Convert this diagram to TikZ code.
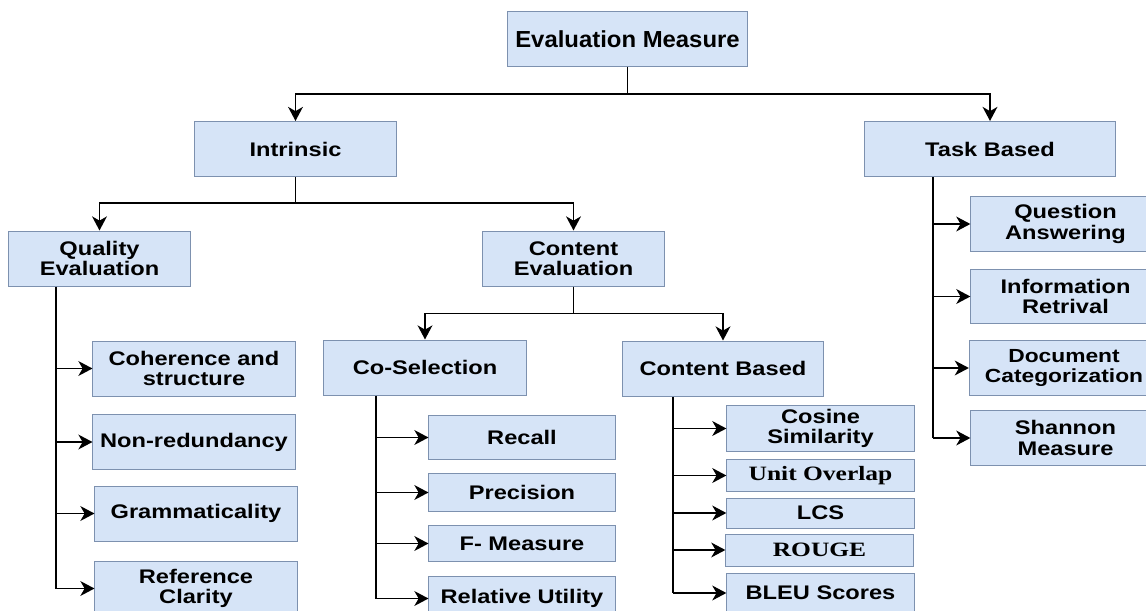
\documentclass[tikz,border=0pt]{standalone}
\usepackage{fontspec}
\setmainfont{Liberation Sans}[FakeStretch=1.2]
\newfontfamily\topfont{Liberation Sans}[FakeStretch=1.03]
\newfontfamily\serfont{Liberation Serif}[FakeStretch=1.25]
\usetikzlibrary{arrows.meta}
\definecolor{boxfill}{RGB}{214,228,247}
\definecolor{boxline}{RGB}{125,145,175}

\begin{document}
\begin{tikzpicture}
	[
		x=0.025cm, y=-0.025cm,
		box/.style = {shape=rectangle, draw=boxline, fill=boxfill, line width=0.7pt, align=center, inner sep=1pt, anchor=center, font=\bfseries\fontsize{14}{14.5}\selectfont},
		lbox/.style = {box, minimum height=1.375cm},
		qbox/.style = {box, minimum width=5.05cm, minimum height=1.375cm},
		sbox/.style = {box, minimum width=4.65cm},
		mbox/.style = {box, minimum width=4.68cm},
		tbox/.style = {box, minimum width=4.73cm, minimum height=1.36cm},
		serbox/.style = {mbox, font=\serfont\bfseries\fontsize{14.5}{16}\selectfont},
		link/.style = {line width=1.4pt},
		arr/.style = {link, -{Stealth[length=10pt, width=10.5pt, inset=3pt]}}
	]
	
	\useasboundingbox (0,0) rectangle (1146,611);
	\clip (0,0) rectangle (1146,611);
	
	\node [lbox, minimum width=5.98cm, font=\topfont\bfseries\fontsize{16.5}{18}\selectfont] (eval) at (627.5,39) {Evaluation Measure};
	
	\node [lbox, minimum width=5.03cm] (intr) at (295.5,149) {Intrinsic};
	\node [lbox, minimum width=6.25cm] (task) at (990,149) {Task Based};
	
	\node [lbox, minimum width=4.53cm] (qual) at (99.5,258.5) {Quality\\Evaluation};
	\node [lbox, minimum width=4.53cm] (cont) at (573.5,258.5) {Content\\Evaluation};
	
	\node [lbox, minimum width=5.05cm] (cosel) at (425,367.5) {Co-Selection};
	\node [lbox, minimum width=5.0cm] (cbased) at (723,368.5) {Content Based};
	
	\node [qbox] (coh) at (194,368.5) {Coherence and\\structure};
	\node [qbox] (nonred) at (194,442) {Non-redundancy};
	\node [qbox] (gram) at (196,513.5) {Grammaticality};
	\node [qbox] (refcl) at (196,588.5) {Reference\\Clarity};
	
	\node [sbox, minimum height=1.08cm] (recall) at (522,437.5) {Recall};
	\node [sbox, minimum height=0.97cm] (prec) at (522,492.5) {Precision};
	\node [sbox, minimum height=0.88cm] (fmeas) at (522,543.5) {F- Measure};
	\node [sbox, minimum height=1.08cm] (relut) at (522,598.5) {Relative Utility};
	
	\node [mbox, minimum height=1.13cm] (cosine) at (820.5,428.5) {Cosine\\Similarity};
	\node [serbox, minimum height=0.78cm] (unitov) at (820.5,475.5) {Unit Overlap};
	\node [mbox, minimum height=0.75cm] (lcs) at (820.5,513) {LCS};
	\node [serbox, minimum height=0.8cm] (rouge) at (819.5,550) {ROUGE};
	\node [mbox, minimum height=1.0cm] (bleu) at (820.5,593) {BLEU Scores};
	
	\node [tbox] (qa) at (1065.5,224) {Question\\Answering};
	\node [tbox] (ir) at (1065.5,296.5) {Information\\Retrival};
	\node [tbox, font=\bfseries\fontsize{13.5}{14.5}\selectfont] (doccat) at (1064,368) {Document\\Categorization};
	\node [tbox] (shannon) at (1065.5,438) {Shannon\\Measure};
	
	\draw [arr] (eval.south) -- ++(0,27) -| (intr);
	\draw [arr] (eval.south) -- ++(0,27) -| (task);
	
	\draw [arr] (intr.south) -- ++(0,26) -| (qual);
	\draw [arr] (intr.south) -- ++(0,26) -| (cont);
	
	\draw [arr] (cont.south) -- ++(0,27) -| (cosel);
	\draw [arr] (cont.south) -- ++(0,27) -| (cbased);
	
	\coordinate (qtrunk) at (56,0);
	\draw [link] (qtrunk |- qual.south) -- (qtrunk |- refcl.west);
	\draw [arr] (qtrunk |- coh.west) -- (coh.west);
	\draw [arr] (qtrunk |- nonred.west) -- (nonred.west);
	\draw [arr] (qtrunk |- gram.west) -- (gram.west);
	\draw [arr] (qtrunk |- refcl.west) -- (refcl.west);
	
	\coordinate (strunk) at (376,0);
	\draw [link] (strunk |- cosel.south) -- (strunk |- relut.west);
	\draw [arr] (strunk |- recall.west) -- (recall.west);
	\draw [arr] (strunk |- prec.west) -- (prec.west);
	\draw [arr] (strunk |- fmeas.west) -- (fmeas.west);
	\draw [arr] (strunk |- relut.west) -- (relut.west);
	
	\coordinate (mtrunk) at (673,0);
	\draw [link] (mtrunk |- cbased.south) -- (mtrunk |- bleu.west);
	\draw [arr] (mtrunk |- cosine.west) -- (cosine.west);
	\draw [arr] (mtrunk |- unitov.west) -- (unitov.west);
	\draw [arr] (mtrunk |- lcs.west) -- (lcs.west);
	\draw [arr] (mtrunk |- rouge.west) -- (rouge.west);
	\draw [arr] (mtrunk |- bleu.west) -- (bleu.west);
	
	\coordinate (ttrunk) at (933,0);
	\draw [link] (ttrunk |- task.south) -- (ttrunk |- shannon.west);
	\draw [arr] (ttrunk |- qa.west) -- (qa.west);
	\draw [arr] (ttrunk |- ir.west) -- (ir.west);
	\draw [arr] (ttrunk |- doccat.west) -- (doccat.west);
	\draw [arr] (ttrunk |- shannon.west) -- (shannon.west);
	
\end{tikzpicture}
\end{document}
